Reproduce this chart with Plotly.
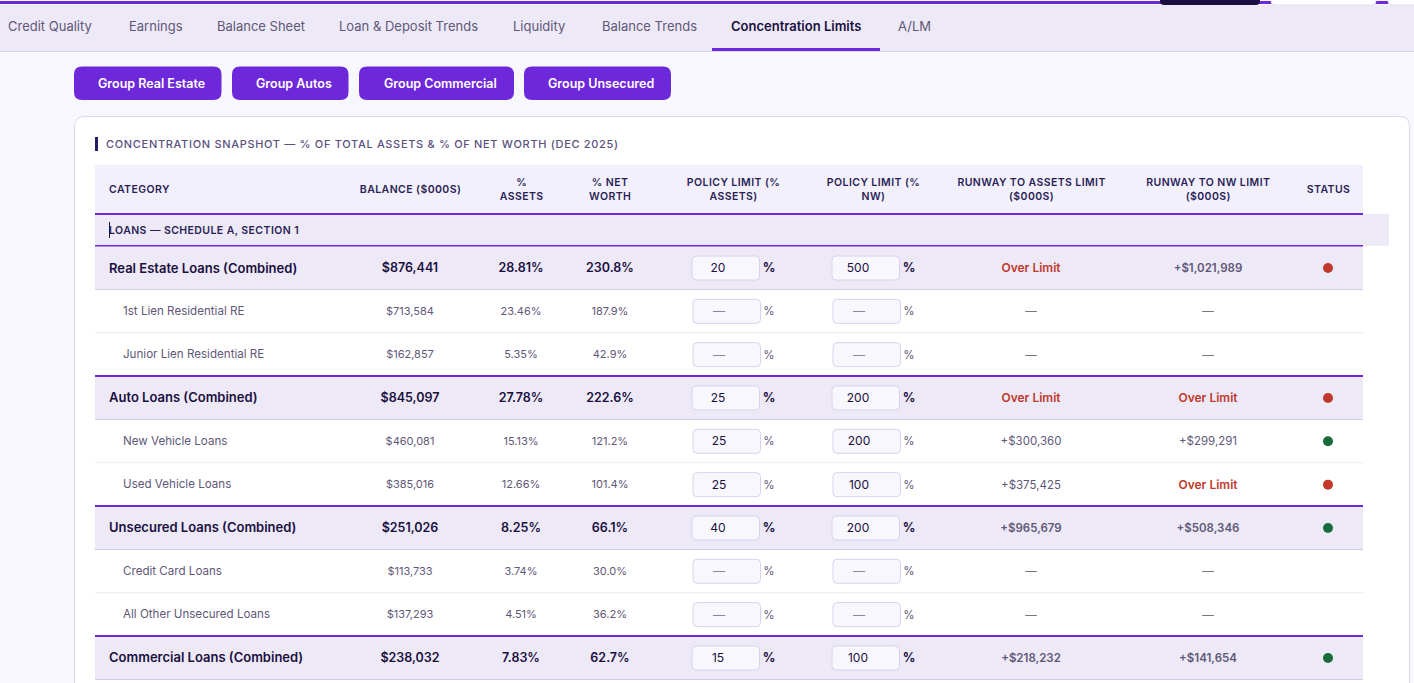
import plotly.graph_objects as go

tabs = ["Credit Quality", "Earnings", "Balance Sheet", "Loan & Deposit Trends", "Liquidity",
        "Balance Trends", "Concentration Limits", "A/LM"]
buttons = ["Group Real Estate", "Group Autos", "Group Commercial", "Group Unsecured"]
headers = ["BALANCE ($000S)", "%<br>ASSETS", "% NET<br>WORTH", "POLICY LIMIT (%<br>ASSETS)",
           "POLICY LIMIT (%<br>NW)", "RUNWAY TO ASSETS LIMIT<br>($000S)", "RUNWAY TO NW LIMIT<br>($000S)", "STATUS"]

categories = ["Real Estate Loans (Combined)", "1st Lien Residential RE", "Junior Lien Residential RE",
              "Auto Loans (Combined)", "New Vehicle Loans", "Used Vehicle Loans",
              "Unsecured Loans (Combined)", "Credit Card Loans", "All Other Unsecured Loans",
              "Commercial Loans (Combined)"]
is_group = [True, False, False, True, False, False, True, False, False, True]
balance = ["$876,441", "$713,584", "$162,857", "$845,097", "$460,081", "$385,016",
           "$251,026", "$113,733", "$137,293", "$238,032"]
pct_assets = ["28.81%", "23.46%", "5.35%", "27.78%", "15.13%", "12.66%", "8.25%", "3.74%", "4.51%", "7.83%"]
pct_nw = ["230.8%", "187.9%", "42.9%", "222.6%", "121.2%", "101.4%", "66.1%", "30.0%", "36.2%", "62.7%"]
limit_assets = ["20", "—", "—", "25", "25", "25", "40", "—", "—", "15"]
limit_nw = ["500", "—", "—", "200", "200", "100", "200", "—", "—", "100"]
runway_assets = ["Over Limit", "—", "—", "Over Limit", "+$300,360", "+$375,425",
                 "+$965,679", "—", "—", "+$218,232"]
runway_nw = ["+$1,021,989", "—", "—", "Over Limit", "+$299,291", "Over Limit",
             "+$508,346", "—", "—", "+$141,654"]
status = ["red", None, None, "red", "green", "red", "green", None, None, "green"]

FONT = "Inter"
PURPLE = "#6d28d9"
DARK = "#1a1040"
MUTED = "#5f5878"
RED = "#c0392b"
GREEN = "#1a6b3c"
BAND = "#ede9f7"
PAGE = "#f8f7fd"

ROW0 = 268
ROW_STEP = 43.33
row_y = [ROW0 + ROW_STEP * i for i in range(len(categories))]

tab_x = [8, 129, 217, 339, 513, 602, 731, 898]
button_x = [(74, 221.5), (232, 348.5), (359, 514), (524, 671)]
head_x = [410, 521, 610, 733, 873, 1031, 1208, 1328]


def rrect(x0, y0, x1, y1, r, fill, line=None, width=1):
    path = (f"M{x0+r},{y0} L{x1-r},{y0} Q{x1},{y0} {x1},{y0+r} L{x1},{y1-r} Q{x1},{y1} {x1-r},{y1} "
            f"L{x0+r},{y1} Q{x0},{y1} {x0},{y1-r} L{x0},{y0+r} Q{x0},{y0} {x0+r},{y0} Z")
    return dict(type="path", path=path, fillcolor=fill, line=dict(color=line or fill, width=width if line else 0),
                layer="below")


def rect(x0, y0, x1, y1, fill):
    return dict(type="rect", x0=x0, y0=y0, x1=x1, y1=y1, fillcolor=fill, line_width=0, layer="below")


shapes = [
    rect(0, 5, 1414, 51, BAND),
    rect(0, 51, 1414, 52, "#d9d4ea"),
    rect(0, 1, 1414, 4, PURPLE),
    rrect(1160, -6, 1260, 5, 4, "#1a1040"),
    rrect(1271, -6, 1376, 5, 4, "#ffffff", "#e4dff2"),
    rrect(1388, -6, 1420, 5, 4, "#ffffff", "#e4dff2"),
    rect(712, 48, 880, 51, PURPLE),
    rrect(74.5, 116.5, 1409.5, 720, 10, "#ffffff", "#ddd7f0"),
    rect(95, 137, 98, 151, "#2a1a66"),
    rect(95, 165, 1363, 213, "#f3f0fd"),
    rect(95, 214, 1389, 246, BAND),
    rect(95, 213, 1363, 215, PURPLE),
    rect(95, 245, 1363, 247, PURPLE),
    rect(109, 222, 110, 238, DARK),
]
for x0, x1 in button_x:
    shapes.append(rrect(x0, 66.5, x1, 100, 8, PURPLE))

for y, grp in zip(row_y, is_group):
    if grp:
        shapes.append(rect(95, y - 21.5, 1363, y + 21, BAND))
        shapes.append(rect(95, y + 21, 1363, y + 22, "#d2cce6"))
        if y > ROW0:
            shapes.append(rect(95, y - 23, 1363, y - 21, PURPLE))
        dx = 0
    else:
        shapes.append(rect(95, y + 21, 1363, y + 22, "#ece9f6"))
        dx = 1
    for bx in (692, 832):
        shapes.append(rrect(bx + dx, y - 12, bx + dx + 67.5, y + 12, 4, PAGE, "#d9d2ee"))

annotations = []


def label(x, y, text, size, color, weight=400, anchor="left"):
    annotations.append(dict(x=x, y=y, text=text, showarrow=False, xanchor=anchor, yanchor="middle",
                            borderpad=0, borderwidth=0, align=anchor,
                            font=dict(family=FONT, size=size, color=color, weight=weight)))


for t, x in zip(tabs, tab_x):
    active = t == "Concentration Limits"
    label(x, 26, t, 13, DARK if active else MUTED, 600 if active else 400)
for t, (x0, x1) in zip(buttons, button_x):
    label((x0 + x1) / 2 + 3.5, 83, t, 12.5, "#ffffff", 600, "center")
label(106, 144, "CONCENTRATION SNAPSHOT — % OF TOTAL ASSETS & % OF NET WORTH (DEC 2025)", 11, "#5b5080", 500)
label(109, 189, "CATEGORY", 10.5, "#2a1f55", 600)
for t, x in zip(headers, head_x):
    label(x, 189.5, t, 10.5, "#2a1f55", 600, "center")
label(109, 230, "LOANS — SCHEDULE A, SECTION 1", 10.5, "#2a1f55", 600)

fig = go.Figure()


def add_column(x, values, mask, size, color, weight):
    ys = [y + 1 for y, m in zip(row_y, mask) if m]
    vals = [v for v, m in zip(values, mask) if m]
    colors = color if isinstance(color, list) else [color] * len(vals)
    weights = weight if isinstance(weight, list) else [weight] * len(vals)
    sizes = size if isinstance(size, list) else [size] * len(vals)
    fig.add_trace(go.Scatter(x=[x] * len(vals), y=ys, text=vals, mode="text", textposition="middle center",
                             hoverinfo="skip", textfont=dict(family=FONT, size=sizes, color=colors, weight=weights)))


def add_runway(x, values, mask, weight):
    vals = [v for v, m in zip(values, mask) if m]
    colors = [RED if v == "Over Limit" else ("#777" if v == "—" else MUTED) for v in vals]
    weights = [600 if v == "Over Limit" else weight for v in vals]
    sizes = [12 if v == "Over Limit" else 11.5 for v in vals]
    add_column(x, values, mask, sizes, colors, weights)


child = [not g for g in is_group]
for mask, cat_size, size, col, w, lim_col in ((is_group, 13, 12.5, DARK, 600, DARK),
                                              (child, 11.6, 11, MUTED, 400, "#8a84a0")):
    grouped = mask is is_group
    cat_x = 109 if grouped else 123
    for y, c, m in zip(row_y, categories, mask):
        if m:
            label(cat_x, y - 0.5, c, cat_size, col, w)
    add_column(410, balance, mask, size, col, w)
    add_column(521, pct_assets, mask, size, col, w)
    add_column(610, pct_nw, mask, size, col, w)
    dx = 0 if grouped else 1
    for xc, vals in ((718 + dx, limit_assets), (858 + dx, limit_nw)):
        cols = [DARK if v != "—" else lim_col for v, m in zip(vals, mask) if m]
        add_column(xc, vals, mask, 12, cols, 400)
    pct_w = 700 if grouped else 400
    add_column(769, ["%"] * len(row_y), mask, 12.5 if grouped else 11.5, col, pct_w)
    add_column(909, ["%"] * len(row_y), mask, 12.5 if grouped else 11.5, col, pct_w)
    rw_w = 600 if grouped else 400
    add_runway(1031, runway_assets, mask, rw_w)
    add_runway(1208, runway_nw, mask, rw_w)

dot_y = [y for y, s in zip(row_y, status) if s]
dot_c = [RED if s == "red" else GREEN for s in status if s]
fig.add_trace(go.Scatter(x=[1328] * len(dot_y), y=dot_y, mode="markers", hoverinfo="skip",
                         marker=dict(size=10, color=dot_c)))

fig.update_layout(
    width=1414, height=683, margin=dict(l=0, r=0, t=0, b=0), showlegend=False,
    paper_bgcolor=PAGE, plot_bgcolor=PAGE, shapes=shapes, annotations=annotations,
    xaxis=dict(range=[0, 1414], visible=False, fixedrange=True),
    yaxis=dict(range=[683, 0], visible=False, fixedrange=True),
)

# plotly has no letter spacing option, the caps labels need it
post = """
document.body.style.margin='0';
document.body.style.overflow='hidden';
document.querySelectorAll('g.annotation text').forEach(function(t){
  var s=t.textContent;
  if(s.length>4 && s===s.toUpperCase()){
    t.style.letterSpacing=s.startsWith('CONCENTRATION')?'0.68px':'0.42px';
  }
});
"""
fig.write_html("out.html", config=dict(displayModeBar=False), post_script=post)
